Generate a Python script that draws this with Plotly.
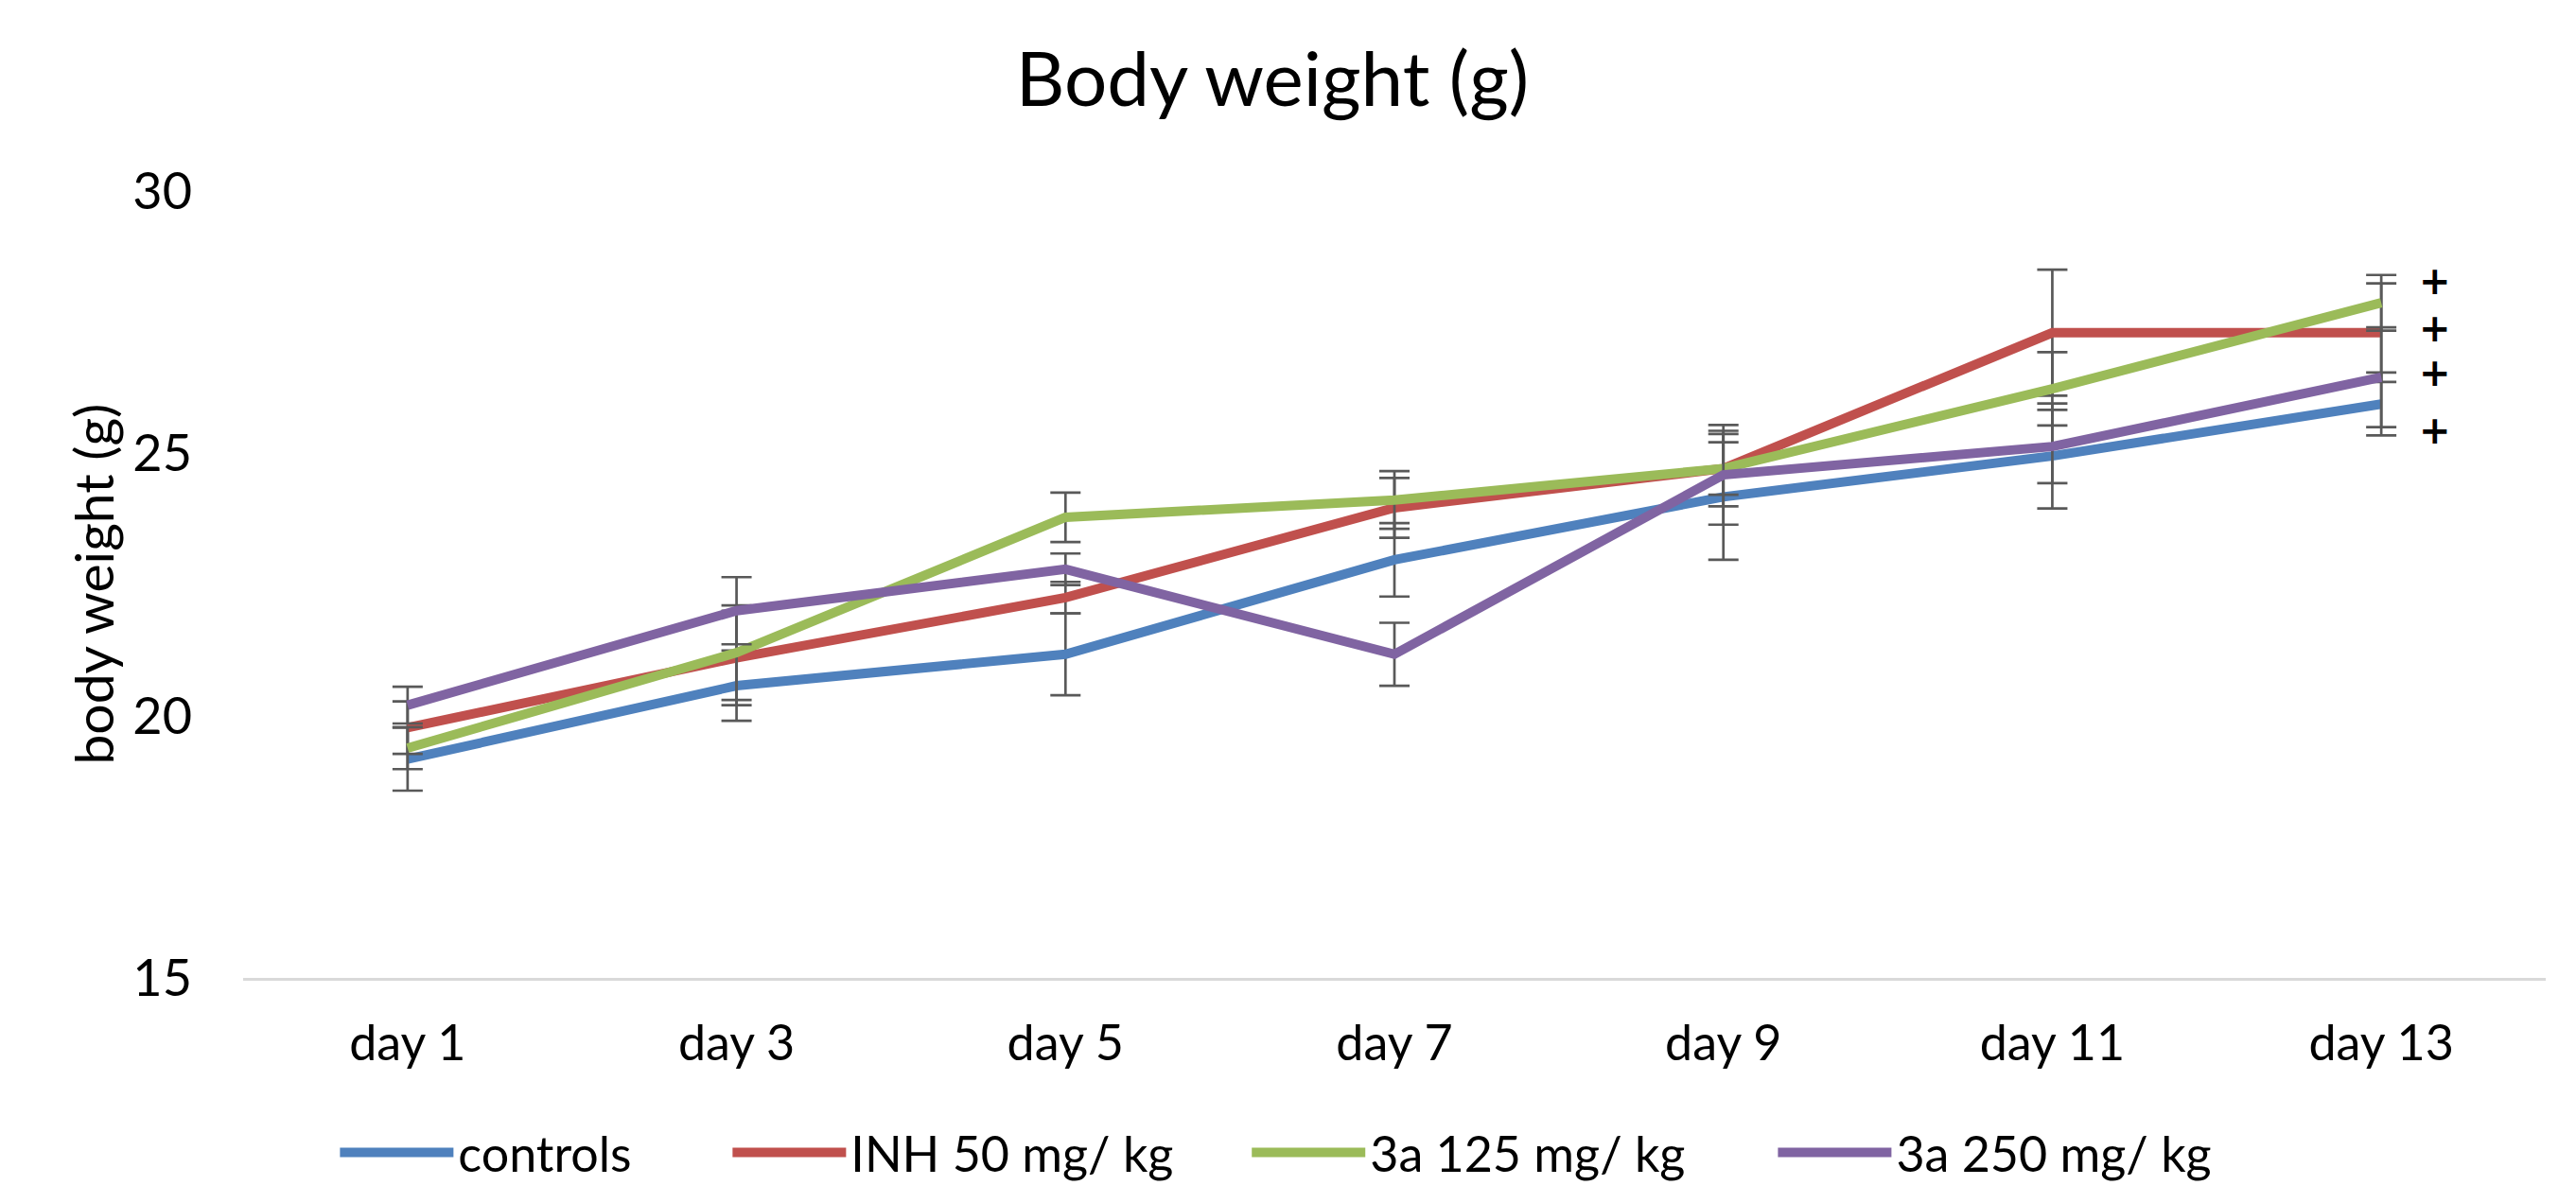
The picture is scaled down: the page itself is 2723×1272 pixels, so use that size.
import plotly.graph_objects as go

days = ["day 1", "day 3", "day 5", "day 7", "day 9", "day 11", "day 13"]

controls = [19.17, 20.57, 21.17, 22.97, 24.17, 24.95, 25.94]
controls_err = [0.60, 0.67, 0.78, 0.70, 1.20, 1.00, 0.60]

inh50 = [19.77, 21.10, 22.25, 23.96, 24.71, 27.30, 27.30]
inh50_err = [0.50, 0.90, 0.30, 0.57, 0.50, 1.20, 0.94]

a125 = [19.38, 21.20, 23.78, 24.11, 24.71, 26.23, 27.87]
a125_err = [0.40, 0.90, 0.47, 0.55, 0.72, 0.70, 0.53]

a250 = [20.20, 22.00, 22.79, 21.17, 24.59, 25.13, 26.45]
a250_err = [0.35, 0.64, 0.30, 0.60, 0.95, 0.70, 0.95]

series_names = ["controls", "INH 50 mg/ kg", "3a 125 mg/ kg", "3a 250 mg/ kg"]
series_colors = ["#4F81BD", "#C0504D", "#9BBB59", "#8064A2"]

plus_marks = ["+", "+", "+", "+"]
plus_y = [28.2, 27.3, 26.45, 25.35]

yticks = [15, 20, 25, 30]

FONT = "Lato, 'Open Sans', sans-serif"

# legend entry left positions (paper fraction)
legend_x = [0.040, 0.2105, 0.436, 0.6645]
legend_ids = ["legend", "legend2", "legend3", "legend4"]

fig = go.Figure()
for name, vals, errs, col, lid in zip(series_names,
                                      [controls, inh50, a125, a250],
                                      [controls_err, inh50_err, a125_err, a250_err],
                                      series_colors, legend_ids):
    fig.add_trace(go.Scatter(
        x=days, y=vals, name=name, mode="lines", legend=lid,
        line=dict(color=col, width=10),
        error_y=dict(type="data", array=errs, visible=True,
                     color="#595959", thickness=2.7, width=16),
    ))

for txt, yv in zip(plus_marks, plus_y):
    fig.add_annotation(x=days[-1], y=yv, xref="x", yref="y", text="<b>" + txt + "</b>",
                       showarrow=False, xshift=57, yshift=5,
                       font=dict(family="DejaVu Sans", size=40, color="black"))

fig.add_annotation(xref="paper", yref="paper", x=-0.0803, y=0.5,
                   text="body weight (g)", textangle=-90, showarrow=False,
                   font=dict(family=FONT, size=57, color="black"))

legend_common = dict(orientation="h", xanchor="left", y=-0.222, yanchor="middle",
                     font=dict(family=FONT, size=52, color="black"), itemwidth=120,
                     bgcolor="rgba(0,0,0,0)")

fig.update_layout(
    width=2723, height=1272,
    margin=dict(l=248.5, r=39.5, t=194, b=246),
    paper_bgcolor="white", plot_bgcolor="white",
    title=dict(text="Body weight (g)", x=0.491, xref="container", xanchor="center",
               y=1 - 76 / 1272, yref="container", yanchor="middle",
               font=dict(family=FONT, size=80, color="black")),
    font=dict(family=FONT, color="black"),
    showlegend=True,
    legend=dict(x=legend_x[0], **legend_common),
    legend2=dict(x=legend_x[1], **legend_common),
    legend3=dict(x=legend_x[2], **legend_common),
    legend4=dict(x=legend_x[3], **legend_common),
    xaxis=dict(range=[-0.5, 6.5], showgrid=False, showline=True, linecolor="#D9D9D9",
               linewidth=2.5, ticks="", tickfont=dict(family=FONT, size=52, color="black"),
               ticklabelstandoff=22, zeroline=False),
    yaxis=dict(range=[15, 30], tickvals=yticks, showgrid=False, showline=False,
               ticks="", zeroline=False,
               tickfont=dict(family=FONT, size=54, color="black"),
               ticklabelstandoff=53),
)

fig.write_html("out.html")
